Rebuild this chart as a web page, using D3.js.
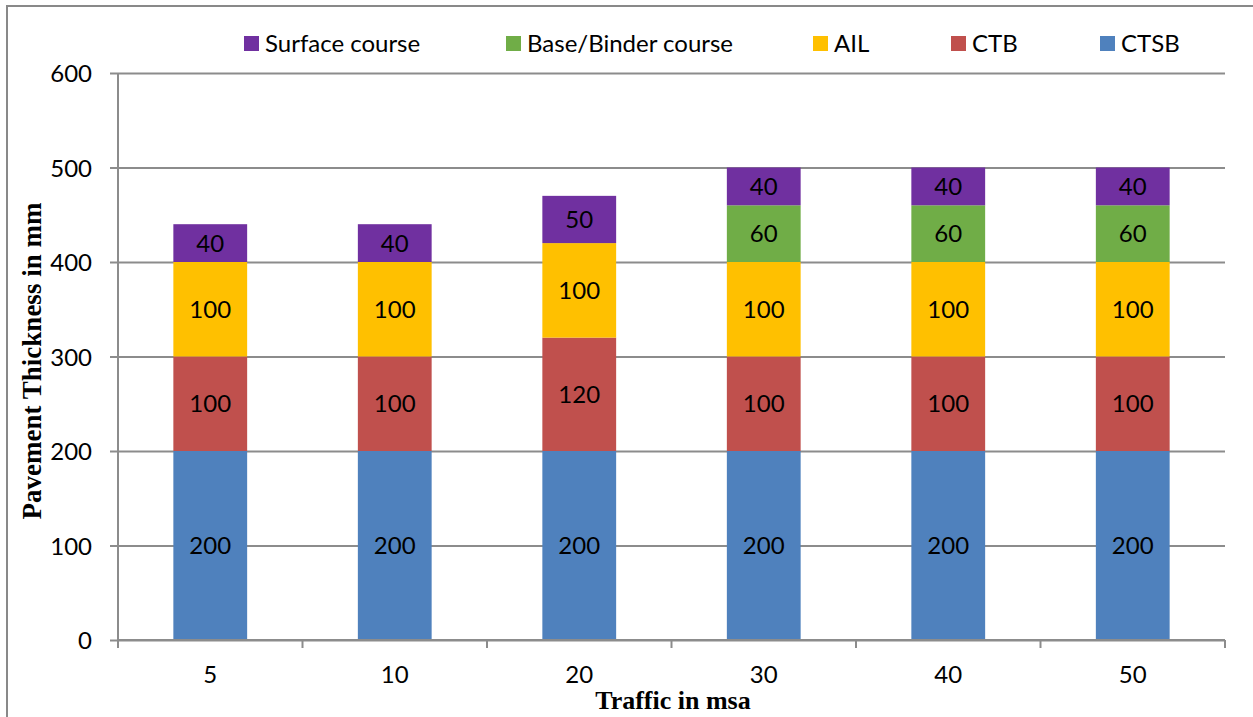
<!DOCTYPE html>
<html><head><meta charset="utf-8">
<script src="https://cdn.jsdelivr.net/npm/d3@7"></script>
<style>body{margin:0;background:#fff}svg{display:block}</style>
</head><body><svg id="c" width="1253" height="717"></svg>
<script>
const categories = ["5","10","20","30","40","50"];
const seriesNames = ["CTSB","CTB","AIL","Base/Binder course","Surface course"];
const CTSB = [200,200,200,200,200,200];
const CTB = [100,100,120,100,100,100];
const AIL = [100,100,100,100,100,100];
const BaseBinder = [0,0,0,60,60,60];
const Surface = [40,40,50,40,40,40];
const yTicks = [0,100,200,300,400,500,600];
const colors = ["#4F81BD","#C0504D","#FFC000","#70AD47","#7030A0"];
const legendOrder = ["Surface course","Base/Binder course","AIL","CTB","CTSB"];

const seriesValues = [CTSB, CTB, AIL, BaseBinder, Surface];
const table = categories.map((c,i)=>{const o={cat:c}; seriesNames.forEach((s,j)=>o[s]=seriesValues[j][i]); return o;});
const stack = d3.stack().keys(seriesNames)(table);

const FONT = "Lato, 'Open Sans', sans-serif";
const FS = 24;
const svg = d3.select("#c");
const L=118, R=1225, T=73, B=640;
const x = d3.scaleBand().domain(categories).range([L,R]).paddingInner(0.6).paddingOuter(0.3);
const y = d3.scaleLinear().domain([0,600]).range([B,T]);
const col = d3.scaleOrdinal().domain(seriesNames).range(colors);

// outer border
svg.append("rect").attr("x",7).attr("y",6).attr("width",1260).attr("height",730)
  .attr("fill","none").attr("stroke","#898989").attr("stroke-width",2);

// gridlines + y axis
const gy = svg.append("g").attr("transform",`translate(${L},0)`)
  .call(d3.axisLeft(y).tickValues(yTicks).tickSize(-(R-L)).tickSizeOuter(0));
gy.select(".domain").remove();
gy.selectAll(".tick line").attr("stroke","#8c8c8c").attr("stroke-width",2).attr("x1",-8);
gy.selectAll(".tick text").attr("font-family",FONT).attr("font-size",FS).attr("fill","#000").attr("x",-26).attr("dy","0.36em");
svg.append("line").attr("x1",L).attr("x2",L).attr("y1",T).attr("y2",B).attr("stroke","#8c8c8c").attr("stroke-width",2);

// bars
const layers = svg.append("g").selectAll("g").data(stack).join("g").attr("fill",d=>col(d.key));
layers.selectAll("rect").data(d=>d.map(v=>({v,key:d.key}))).join("rect")
  .attr("x",d=>x(d.v.data.cat)).attr("width",x.bandwidth())
  .attr("y",d=>y(d.v[1])).attr("height",d=>y(d.v[0])-y(d.v[1]));
// labels
const lab = svg.append("g");
stack.forEach(s=>{
  s.forEach(v=>{
    const val=v[1]-v[0]; if(!val) return;
    lab.append("text").attr("x",x(v.data.cat)+x.bandwidth()/2).attr("y",(y(v[0])+y(v[1]))/2)
      .attr("dy","0.36em").attr("text-anchor","middle")
      .attr("font-family",FONT).attr("font-size",FS).attr("fill","#000").text(val);
  });
});

// x axis
const xTickPos = d3.range(categories.length+1).map(i=>L+i*(R-L)/categories.length);
svg.append("line").attr("x1",L).attr("x2",R).attr("y1",B).attr("y2",B).attr("stroke","#8c8c8c").attr("stroke-width",2);
svg.append("g").selectAll("line").data(xTickPos).join("line")
  .attr("x1",d=>d).attr("x2",d=>d).attr("y1",B).attr("y2",B+8).attr("stroke","#8c8c8c").attr("stroke-width",2);
svg.append("g").selectAll("text").data(categories).join("text")
  .attr("x",d=>x(d)+x.bandwidth()/2).attr("y",683).attr("text-anchor","middle")
  .attr("font-family",FONT).attr("font-size",FS).attr("fill","#000").text(d=>d);

// axis titles
svg.append("text").attr("x",673).attr("y",709).attr("text-anchor","middle")
  .attr("font-family","'Liberation Serif', 'Times New Roman', serif").attr("font-weight","bold").attr("font-size",26).text("Traffic in msa");
svg.append("text").attr("transform","translate(41,361) rotate(-90)").attr("text-anchor","middle")
  .attr("font-family","'Liberation Serif', 'Times New Roman', serif").attr("font-weight","bold").attr("font-size",27).text("Pavement Thickness in mm");

// legend
const legX = [244,506,813,951,1100];
const lg = svg.append("g").selectAll("g").data(legendOrder).join("g")
  .attr("transform",(d,i)=>`translate(${legX[i]},36)`);
lg.append("rect").attr("width",15).attr("height",15).attr("fill",d=>col(d));
lg.append("text").attr("x",21).attr("y",16).attr("font-family",FONT).attr("font-size",FS).attr("fill","#000").text(d=>d);
</script></body></html>
